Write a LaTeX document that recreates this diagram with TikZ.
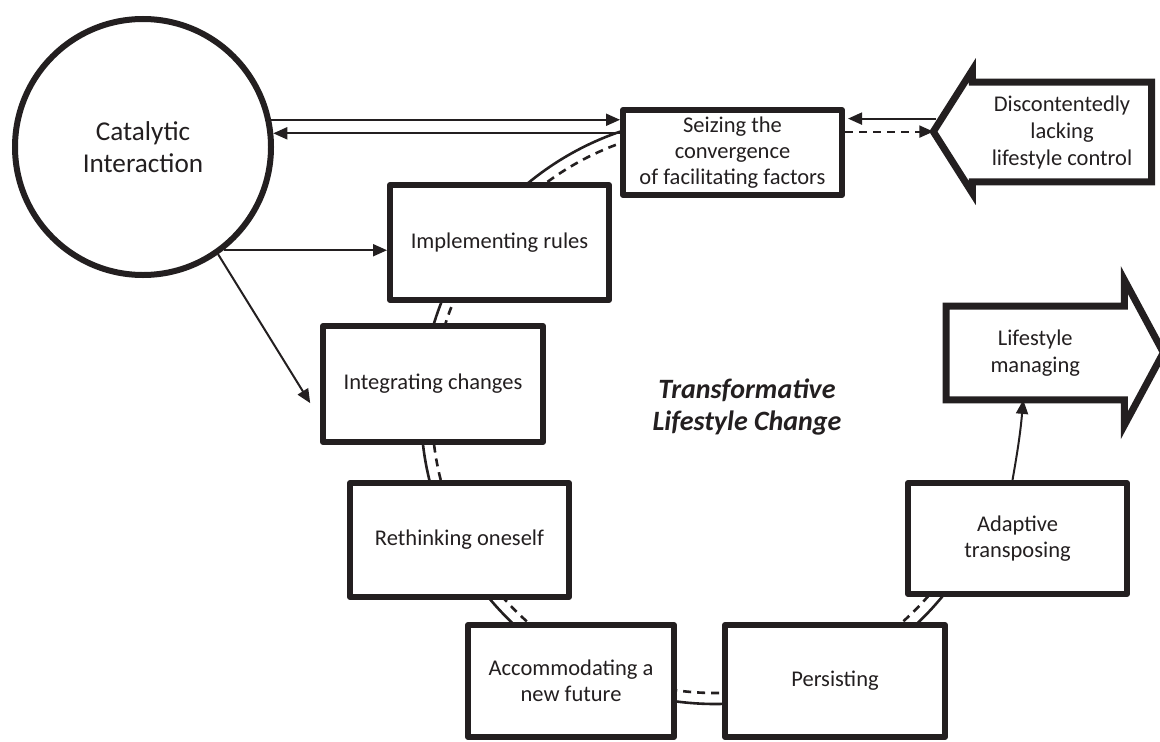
\documentclass[tikz,border=0pt]{standalone}
\usepackage{fontspec}
\setmainfont{Carlito}
\usetikzlibrary{arrows.meta}
\definecolor{ink}{HTML}{231F20}

\begin{document}
\begin{tikzpicture}[x=0.5pt, y=0.5pt,
  stage/.style={draw=ink, fill=white, line width=3pt, line join=round, align=center,
    text=ink, font=\fontsize{11.25}{13}\selectfont, inner sep=2pt},
  pointer/.style={draw=ink, line width=3.5pt, line join=miter},
  label/.style={text=ink, align=center, inner sep=0pt, font=\fontsize{11.25}{13.5}\selectfont},
  link/.style={draw=ink, line width=1pt, -{Triangle[length=7pt,width=6pt]}},
  ring/.style={draw=ink, line width=1.3pt}]
  \useasboundingbox (0,0) rectangle (1160,741);
  % the cycle behind the stages
  \coordinate (hub) at (715,331);
  \draw[ring] (hub) ++(85:147pt) arc[start angle=85, end angle=337, radius=147pt];
  \draw[ring, dash pattern=on 4pt off 3pt] (hub) ++(85:141.5pt) arc[start angle=85, end angle=337, radius=141.5pt];

  % stages
  \node[stage, minimum width=109.5pt, minimum height=42.5pt] (seize) at (732.5,588.5) {Seizing the\\convergence\\of facilitating factors};
  \node[stage, minimum width=109.5pt, minimum height=57.5pt] (impl) at (499.5,498.5) {Implementing rules};
  \node[stage, minimum width=110pt, minimum height=58pt] (integ) at (433,357) {Integrating changes};
  \node[stage, minimum width=109.5pt, minimum height=57pt] (reth) at (459.5,201) {Rethinking oneself};
  \node[stage, minimum width=103pt, minimum height=56pt] (accom) at (571,60) {Accommodating a\\new future};
  \node[stage, minimum width=110pt, minimum height=56pt] (persist) at (835,60) {Persisting};
  \node[stage, minimum width=109.5pt, minimum height=55.5pt] (adapt) at (1017.5,202.5) {Adaptive\\transposing};

  \node[circle, draw=ink, fill=white, line width=3pt, minimum size=128pt, align=center, text=ink,
    font=\fontsize{13.6}{16}\selectfont] (cat) at (143,594) {Catalytic\\Interaction};
  \node[text=ink, align=center, font=\fontsize{14}{16}\selectfont\bfseries\itshape] (title) at (747,334) {Transformative\\Lifestyle Change};

  % big arrows
  \node[label, minimum width=89.25pt, minimum height=49.5pt] (disc) at (1062,609) {Discontentedly\\lacking\\lifestyle control};
  \draw[pointer] (disc.north east) -- (disc.north west) -- ++(0,12) -- ++(-39,-61.5) coordinate (disctip)
    -- ++(39,-61.5) -- (disc.south west) -- (disc.south east) -- cycle;
  \node[label, minimum width=88.75pt, minimum height=46.5pt] (manage) at (1035.25,388) {Lifestyle\\managing};
  \draw[pointer] (manage.south west) -- (manage.north west) -- (manage.north east) -- ++(0,26)
    -- ++(39,-72.5) -- ++(-39,-72.5) -- (manage.south east) -- cycle;

  % connectors
  \draw[link] (cat.12.6) -- (cat.12.6 -| seize.west);
  \draw[link] (cat.6.7 -| seize.west) -- (cat.6.7);
  \draw[link] (cat.-52.8) -- (cat.-52.8 -| impl.west);
  \draw[link, shorten >=9.3pt] (cat.-55) -- ([yshift=-17.5pt]integ.west);
  \draw[link] ([shift={(3,13)}]disctip) -- ([shift={(3,13)}]disctip -| seize.east);
  \draw[link, dash pattern=on 4pt off 3pt] (disctip -| seize.east) -- (disctip);
  \draw[link] ([xshift=-2.5pt]adapt.north) to[out=80,in=-95] ([xshift=-6pt]manage.south);
\end{tikzpicture}
\end{document}
